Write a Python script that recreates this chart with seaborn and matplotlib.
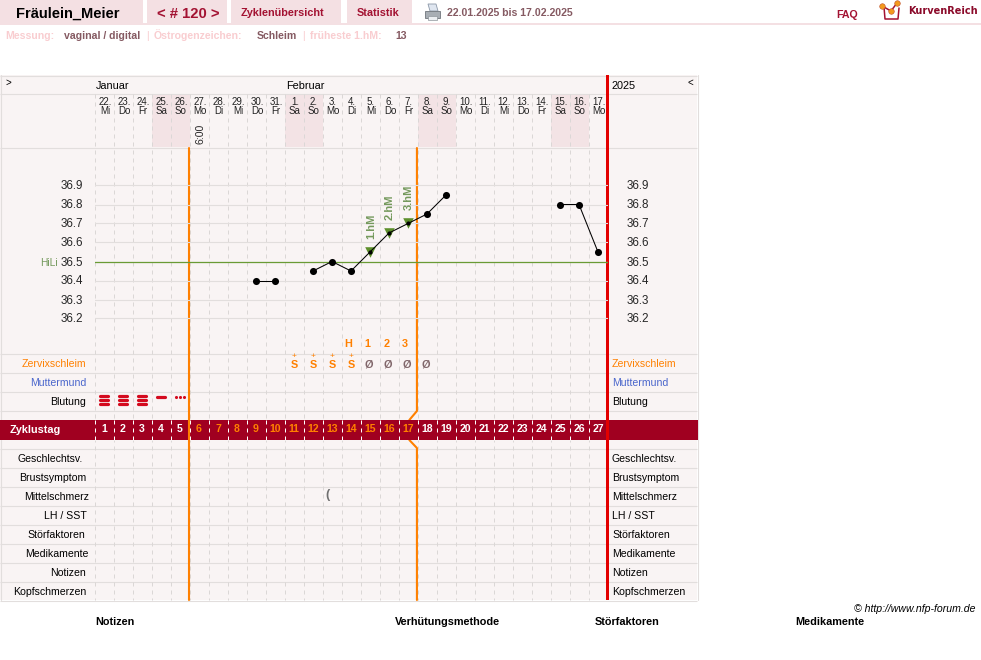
import matplotlib
matplotlib.use("Agg")
import matplotlib.pyplot as plt
import matplotlib.transforms as mtransforms
from matplotlib.patches import Rectangle, Polygon
import pandas as pd
import seaborn as sns

W, H = 981, 660

# chart values
cycle_days = list(range(1, 28))
dates = ["22.", "23.", "24.", "25.", "26.", "27.", "28.", "29.", "30.", "31.",
         "1.", "2.", "3.", "4.", "5.", "6.", "7.", "8.", "9.", "10.",
         "11.", "12.", "13.", "14.", "15.", "16.", "17."]
weekdays = ["Mi", "Do", "Fr", "Sa", "So", "Mo", "Di", "Mi", "Do", "Fr",
            "Sa", "So", "Mo", "Di", "Mi", "Do", "Fr", "Sa", "So", "Mo",
            "Di", "Mi", "Do", "Fr", "Sa", "So", "Mo"]
temp_days = [9, 10, 12, 13, 14, 15, 16, 17, 18, 19, 25, 26, 27]
temp_values = [36.4, 36.4, 36.45, 36.5, 36.45, 36.55, 36.65, 36.7, 36.75, 36.85, 36.8, 36.8, 36.55]
temp_segments = [0, 0, 1, 1, 1, 1, 1, 1, 1, 1, 2, 2, 2]
temp_ticks = [36.9, 36.8, 36.7, 36.6, 36.5, 36.4, 36.3, 36.2]
coverline = 36.5
peak_days = [14, 15, 16, 17]
peak_labels = ["H", "1", "2", "3"]
hm_days = [15, 16, 17]
hm_temps = [36.55, 36.65, 36.7]
hm_labels = ["1.hM", "2.hM", "3.hM"]
mucus_plus_days = [11, 12, 13, 14]
mucus_none_days = [15, 16, 17, 18]
bleed_heavy_days = [1, 2, 3]
bleed_medium_days = [4]
bleed_light_days = [5]
pain_days = [13]
left_end_day = 5
high_end_day = 17
row_labels = ["Zervixschleim", "Muttermund", "Blutung"]
lower_labels = ["Geschlechtsv.", "Brustsymptom", "Mittelschmerz", "LH / SST",
                "Störfaktoren", "Medikamente", "Notizen", "Kopfschmerzen"]
lower_label_right = [83, 86, 89, 87, 85, 89, 86, 86]
footer_labels = ["Notizen", "Verhütungsmethode", "Störfaktoren", "Medikamente"]

PANEL = "#f9f4f4"
GRID = "#e2dedd"
DASH = "#dbd7d6"
WEEKEND = "#f3e3e5"
PINK = "#f4e0e3"
BAND = "#a00020"
DARKRED = "#a31232"
ORANGE = "#ff8000"
RED = "#e30000"
BROWN = "#855a62"
LIGHT = "#f9cdd0"
GREEN = "#6a9b35"
SAGE = "#74995c"

sns.set_theme(style="white")
plt.rcParams["font.family"] = ["Liberation Sans", "DejaVu Sans"]

fig = plt.figure(figsize=(W / 100, H / 100), dpi=100)
bg = fig.add_axes([0, 0, 1, 1])
bg.set_xlim(0, W)
bg.set_ylim(H, 0)
bg.axis("off")


def txt(x, y, s, size=8, color="black", weight="normal", ha="left", **kw):
    # y is the middle of the capitals, so umlauts do not shift the line
    return bg.text(x, y + 0.5 * size, s, fontsize=size, color=color, fontweight=weight,
                   ha=ha, va="baseline", **kw)


def hline(y, x0=0, x1=697, color=GRID, lw=0.8, z=2):
    bg.plot([x0, x1], [y + 0.5, y + 0.5], color=color, lw=lw, zorder=z,
            solid_capstyle="butt")


# page header
for x0, x1 in [(0, 143), (147, 227), (231, 341), (347, 412)]:
    bg.add_patch(Rectangle((x0, 0), x1 - x0, 23, color=PINK, lw=0))
bg.add_patch(Rectangle((0, 23), W, 2, color=PINK, lw=0))
txt(16, 12.5, "Fräulein_Meier", 10.5, "black", "bold")
txt(157, 12.5, "< # 120 >", 10.7, DARKRED, "bold")
txt(241, 12, "Zyklenübersicht", 7.8, DARKRED, "bold")
txt(357, 12, "Statistik", 7.8, DARKRED, "bold")
txt(447, 12, "22.01.2025 bis 17.02.2025", 7.6, BROWN, "bold")
txt(836, 14, "FAQ", 7.7, DARKRED, "bold")
txt(908, 10, "KurvenReich", 7, "#8b0a2a", "bold", family="DejaVu Sans")

# printer icon
bg.add_patch(Polygon([(428, 4), (436, 4), (438, 11), (430, 11)], fc="#dfe6f0", ec="#8c98a8", lw=0.6))
bg.add_patch(Polygon([(425, 11), (440, 11), (440, 18), (425, 18)], fc="#a8aeb4", ec="#70767c", lw=0.6))
bg.add_patch(Polygon([(428, 16), (437, 16), (437, 20), (428, 20)], fc="#eceff2", ec="#90969c", lw=0.5))

# logo
bg.plot([884, 885, 898, 899], [7, 19, 19, 8], color="#a31232", lw=1.1)
bg.plot([882, 891, 897], [6, 11, 3], color="#a31232", lw=1.1)
bg.scatter([882, 891, 897], [6, 11, 3], s=16, color="#f39a1d", edgecolors="#c0502a", linewidths=0.4, zorder=3)

# measurement line
txt(5, 35.5, "Messung:", 7.6, LIGHT, "bold")
txt(64, 35.5, "vaginal / digital", 7.6, BROWN, "bold")
txt(146, 35.5, "|", 7.6, LIGHT)
txt(154, 35.5, "Östrogenzeichen:", 7.6, LIGHT, "bold")
txt(257, 35.5, "Schleim", 7.6, BROWN, "bold")
txt(302, 35.5, "|", 7.6, LIGHT)
txt(310, 35.5, "früheste 1.hM:", 7.6, LIGHT, "bold")
txt(395, 35.5, "13", 7.6, BROWN, "bold")

# panel
bg.add_patch(Rectangle((0, 75), 697, 525, color=PANEL, lw=0, zorder=0))
for y in [75, 93, 147, 353, 372, 391, 410, 448, 467, 486, 505, 524, 543, 562, 581, 600]:
    hline(y)
bg.plot([0.5, 0.5], [75, 600], color=GRID, lw=0.8, zorder=2)
bg.plot([697.5, 697.5], [75, 600], color=GRID, lw=0.8, zorder=2)

# temperature axes on top, the day scale is shared by the rows below
ax = fig.add_axes([94.5 / W, 1 - 353 / H, 513 / W, 205 / H])
ax.set_xlim(0.5, 27.5)
ax.set_ylim(36.5 - (353 - 261.5) / 190, 36.5 + (261.5 - 148) / 190)
ax.patch.set_alpha(0)
ax.axis("off")
day_tr = mtransforms.blended_transform_factory(ax.transData, bg.transData)
temp_tr = mtransforms.blended_transform_factory(bg.transData, ax.transData)

# weekends and dashed day columns
for d, wd in zip(cycle_days, weekdays):
    if wd in ("Sa", "So"):
        bg.add_patch(Rectangle((d - 0.5, 94), 1, 53, transform=day_tr, color=WEEKEND, lw=0, zorder=1))
    bg.plot([d - 0.5, d - 0.5], [94, 600], transform=day_tr, color=DASH, lw=0.72,
            ls=(0, (4, 4)), zorder=2)

# day header
txt(5, 82.5, ">", 7, "black")
txt(96, 85, "Januar", 7.8, "black")
txt(286, 85, "Februar", 7.8, "black")
txt(612, 85, "2025", 7.8, "black")
txt(687, 82.5, "<", 7, "black")
for d, dt, wd in zip(cycle_days, dates, weekdays):
    bg.text(d + 0.05, 102, dt, transform=day_tr, fontsize=7, ha="center", va="center", color="#222222")
    bg.text(d + 0.05, 111.5, wd, transform=day_tr, fontsize=7, ha="center", va="center", color="#222222")
bg.text(6.1, 134, "6:00", transform=day_tr, fontsize=7.6, rotation=90, ha="center", va="center")

# temperature grid
ax.hlines(temp_ticks, 85, 625, transform=temp_tr, color=GRID, lw=0.8, zorder=1)
ax.hlines(coverline, 85, 626, transform=temp_tr, color=GREEN, lw=0.9, zorder=2)
for t in temp_ticks:
    ax.annotate(f"{t:.1f}", (83, t), xycoords=temp_tr, xytext=(0, -1), textcoords="offset pixels",
                fontsize=8.4, ha="right", va="center")
    ax.annotate(f"{t:.1f}", (627, t), xycoords=temp_tr, xytext=(0, -1), textcoords="offset pixels",
                fontsize=8.4, ha="left", va="center")
ax.annotate("HiLi", (40, coverline), xycoords=temp_tr, xytext=(0, -1), textcoords="offset pixels",
            fontsize=7.4, color=SAGE, ha="left", va="center")

# row labels
for y, label, col in zip([363, 382, 401], row_labels, [ORANGE, "#4a66cc", "black"]):
    txt(86, y, label, 7.55, col, ha="right")
    txt(612, y, label, 7.55, col)
for i, (label, right) in enumerate(zip(lower_labels, lower_label_right)):
    y = 458 + 19 * i
    txt(right, y, label, 7.55, ha="right")
    txt(612, y, label, 7.55)

# cycle day band
bg.add_patch(Rectangle((0, 420), 697.5, 20, color=BAND, lw=0, zorder=3))
txt(10, 429.5, "Zyklustag", 7.8, "white", "bold", zorder=5)
for d in cycle_days:
    col = ORANGE if left_end_day < d <= high_end_day else "white"
    bg.text(d, 429.5, str(d), transform=day_tr, fontsize=7.6, fontweight="bold", color=col,
            ha="center", va="center", zorder=5)
    bg.plot([d - 0.5, d - 0.5], [420, 440], transform=day_tr, color="white", lw=0.72,
            ls=(0, (4, 4)), zorder=4)

# phase lines
bg.plot([left_end_day + 0.47] * 2, [148, 600], transform=day_tr, color=ORANGE, lw=1.5, zorder=6)
x2 = high_end_day + 0.47
bg.plot([x2, x2, x2 - 0.4], [148, 411, 420], transform=day_tr, color=ORANGE, lw=1.5, zorder=2.5)
bg.plot([x2 - 0.4, x2, x2], [440, 448, 600], transform=day_tr, color=ORANGE, lw=1.5, zorder=2.5)
bg.add_patch(Rectangle((606, 75), 3, 525, color=RED, lw=0, zorder=7))

# temperature curve
curve = pd.DataFrame({"day": temp_days, "temp": temp_values, "segment": temp_segments})
sns.lineplot(data=curve, x="day", y="temp", units="segment", estimator=None,
             color="black", lw=0.75, ax=ax, legend=False, zorder=4)
normal = curve[~curve["day"].isin(hm_days)]
sns.scatterplot(data=normal, x="day", y="temp", color="black", s=26, linewidth=0,
                ax=ax, legend=False, zorder=6)
hm = pd.DataFrame({"day": hm_days, "temp": hm_temps})
sns.scatterplot(data=hm, x="day", y="temp", marker="v", color="#5d8f2b", s=58, linewidth=0,
                ax=ax, legend=False, zorder=3)
sns.scatterplot(data=hm, x="day", y="temp", color="black", s=9, linewidth=0,
                ax=ax, legend=False, zorder=6)
ax.set_xlabel("")
ax.set_ylabel("")
for d, t, label in zip(hm_days, hm_temps, hm_labels):
    ax.annotate(label, (d, t), xytext=(1, 13), textcoords="offset pixels", rotation=90,
                fontsize=8, fontweight="bold", color=SAGE, ha="center", va="bottom")

# peak, mucus and bleeding rows
for d, label in zip(peak_days, peak_labels):
    bg.text(d - 0.15, 344, label, transform=day_tr, fontsize=7.8, color=ORANGE, fontweight="bold", ha="center", va="center")
for d in mucus_plus_days:
    bg.text(d, 356.2, "+", transform=day_tr, fontsize=6, color=ORANGE, ha="center", va="center", zorder=5)
    bg.text(d, 365.5, "S", transform=day_tr, fontsize=7.8, color=ORANGE, fontweight="bold", ha="center", va="center", zorder=5)
for d in mucus_none_days:
    bg.text(d - 0.08, 365, "Ø", transform=day_tr, fontsize=7.8, color="#80666a", fontweight="bold", ha="center", va="center", zorder=5)
for d in bleed_heavy_days:
    for y in [396, 400.3, 404.3]:
        bg.plot([d - 0.22, d + 0.22], [y, y], transform=day_tr, color="#d40a1e", lw=2.3, zorder=5, solid_capstyle="round")
for d in bleed_medium_days:
    bg.plot([d - 0.22, d + 0.22], [396.5, 396.5], transform=day_tr, color="#d40a1e", lw=2.3, zorder=5, solid_capstyle="round")
for d in bleed_light_days:
    bg.scatter([d - 0.22, d, d + 0.22], [396.5] * 3, transform=day_tr, s=5, color="#d40a1e", linewidths=0, zorder=5)
for d in pain_days:
    bg.text(d - 0.22, 495, "(", transform=day_tr, fontsize=9, color="#707070", fontweight="bold", ha="center", va="center", zorder=5)

# footer
txt(976, 608, "© http://www.nfp-forum.de", 7.6, "black", ha="right", style="italic")
for x, label in zip([95, 395, 595, 795], footer_labels):
    txt(x, 621, label, 7.8, "black", "bold")

fig.savefig("out.png", dpi=100)
